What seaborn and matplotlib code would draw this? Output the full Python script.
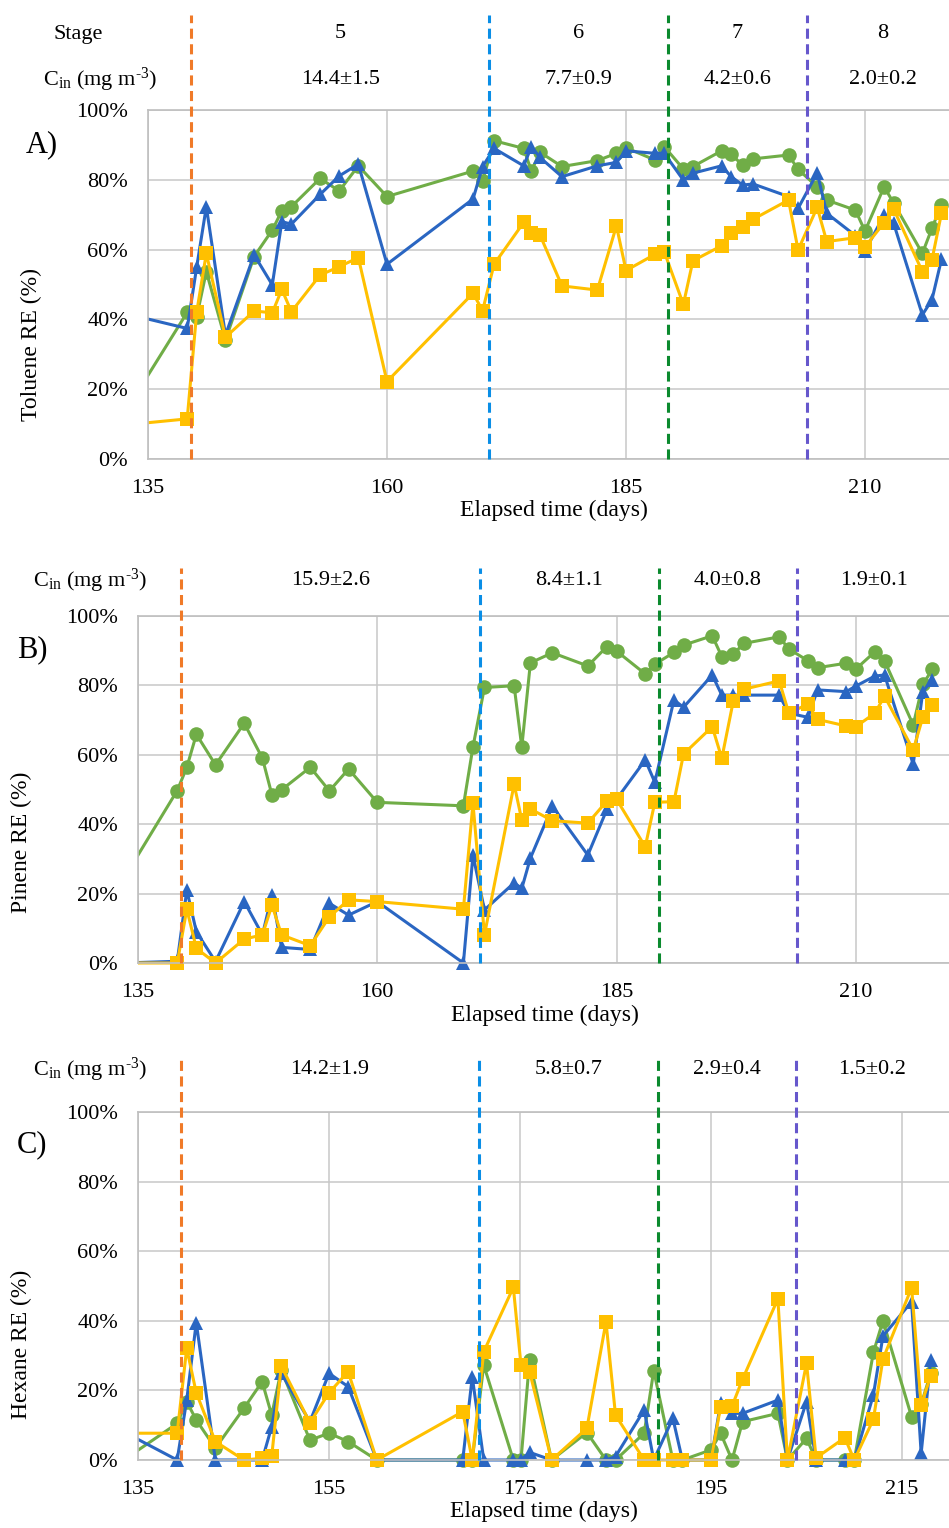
import matplotlib
matplotlib.use('Agg')
import matplotlib.pyplot as plt
from matplotlib.transforms import blended_transform_factory, Bbox, TransformedBbox
from matplotlib.ticker import FuncFormatter
import seaborn as sns
import pandas as pd

# sampling days (first value is an earlier point off the left edge)
DAYS = [133.5, 139.1, 140.1, 141.1, 143.1, 146.1, 148.0, 149.0, 150.0, 153.0, 155.0, 157.0,
        160.0, 169.0, 170.0, 171.2, 174.3, 175.1, 176.0, 178.3, 182.0, 184.0, 185.0, 188.0,
        189.0, 191.0, 192.0, 195.0, 196.0, 197.2, 198.3, 202.0, 203.0, 205.0, 206.0, 209.0,
        210.0, 212.0, 213.0, 216.0, 217.0, 218.0]

# A) toluene RE (%)
tol_green = [17.4, 42.0, 40.8, 53.7, 34.1, 58.0, 65.6, 71.1, 72.3, 80.4, 76.8, 84.0, 75.2, 82.5,
             79.7, 91.2, 89.0, 82.5, 87.9, 83.8, 85.5, 87.6, 89.2, 85.7, 89.5, 83.1, 83.8, 88.3,
             87.3, 84.2, 86.0, 87.1, 83.0, 78.0, 74.2, 71.3, 65.3, 78.0, 73.3, 58.9, 66.1, 72.9]
tol_blue = [41.1, 37.4, 55.1, 72.3, 35.5, 58.5, 49.9, 68.0, 67.3, 75.8, 81.1, 84.5, 55.8, 74.5,
            83.8, 89.0, 84.0, 89.5, 86.4, 80.9, 84.0, 85.0, 88.3, 87.6, 87.6, 79.9, 81.9, 84.0,
            80.9, 78.5, 78.8, 75.2, 71.8, 82.0, 70.4, 64.0, 59.6, 69.9, 67.5, 41.3, 45.6, 57.2]
tol_yellow = [10.0, 11.5, 42.2, 58.9, 34.9, 42.4, 41.9, 48.6, 42.2, 52.7, 55.1, 57.7, 22.2, 47.5,
              42.5, 55.8, 67.8, 64.7, 64.2, 49.6, 48.4, 66.8, 54.0, 58.6, 59.4, 44.3, 56.8, 61.1,
              64.8, 66.4, 68.7, 74.2, 59.9, 72.1, 62.3, 63.4, 60.8, 67.7, 71.6, 53.7, 57.0, 70.4]

# B) pinene RE (%)
pin_green = [24.3, 49.7, 56.4, 65.9, 57.1, 69.1, 59.0, 48.4, 49.9, 56.4, 49.6, 55.9, 46.3, 45.3,
             62.3, 79.4, 79.9, 62.2, 86.5, 89.4, 85.6, 91.2, 89.9, 83.3, 86.1, 89.5, 91.6, 94.3,
             88.3, 89.0, 92.1, 94.0, 90.5, 87.1, 85.1, 86.4, 84.7, 89.7, 87.1, 68.6, 80.3, 84.6]
pin_blue = [0.0, 0.5, 21.0, 9.0, 0.4, 17.7, 8.1, 19.6, 4.5, 3.9, 17.2, 13.8, 17.7, 0.0,
            31.1, 15.3, 23.1, 21.5, 30.2, 45.2, 31.1, 44.3, 47.2, 58.5, 52.1, 75.8, 73.7, 83.0,
            77.2, 77.2, 77.2, 77.2, 72.0, 70.8, 78.7, 78.2, 79.8, 82.7, 83.0, 57.3, 78.2, 81.6]
pin_yellow = [0.0, 0.0, 15.5, 4.2, 0.0, 6.9, 8.1, 16.7, 8.1, 5.0, 13.3, 18.2, 17.7, 15.5,
              46.0, 8.1, 51.5, 41.2, 44.4, 41.0, 40.3, 46.7, 47.2, 33.5, 46.3, 46.5, 60.2, 68.1,
              59.0, 75.5, 78.9, 81.3, 72.0, 74.6, 70.2, 68.3, 68.1, 72.0, 76.9, 61.4, 70.8, 74.4]

# C) hexane RE (%)
hex_green = [0.0, 10.5, 16.8, 11.5, 3.4, 14.9, 22.5, 12.9, 25.9, 5.7, 7.7, 5.3, 0.0, 0.0,
             0.0, 27.3, 0.0, 0.0, 28.7, 0.0, 7.9, 0.0, 0.0, 7.7, 25.7, 0.0, 0.0, 2.9,
             7.7, 0.0, 11.0, 13.4, 0.0, 6.2, 0.0, 0.0, 0.0, 30.9, 40.0, 12.4, 16.0, 24.9]
hex_blue = [8.1, 0.0, 17.2, 39.5, 0.0, 0.0, 0.0, 9.6, 24.9, 11.0, 24.9, 21.1, 0.0, 0.0,
            23.9, 0.0, 0.0, 0.0, 2.2, 0.0, 0.0, 0.0, 1.0, 14.4, 0.0, 12.0, 0.0, 0.0,
            16.3, 13.4, 13.4, 17.2, 0.0, 16.8, 0.0, 0.0, 0.0, 18.7, 35.6, 45.5, 1.9, 28.7]
hex_yellow = [7.7, 7.7, 32.1, 19.3, 5.3, 0.0, 0.5, 1.1, 27.0, 10.7, 19.3, 25.4, 0.0, 13.9,
              0.0, 31.1, 49.6, 27.3, 25.4, 0.0, 9.1, 39.7, 12.9, 0.0, 0.0, 0.0, 0.0, 0.0,
              15.3, 15.5, 23.2, 46.3, 0.0, 27.8, 0.6, 6.4, 0.0, 11.7, 29.0, 49.5, 15.8, 24.1]

# stage changes (days) and stage annotations
STAGE_START = [139.5, 170.7, 189.4, 203.9]
STAGES = ['5', '6', '7', '8']
CIN_TOL = ['14.4±1.5', '7.7±0.9', '4.2±0.6', '2.0±0.2']
CIN_PIN = ['15.9±2.6', '8.4±1.1', '4.0±0.8', '1.9±0.1']
CIN_HEX = ['14.2±1.9', '5.8±0.7', '2.9±0.4', '1.5±0.2']

STAGE_COLORS = ['#F07A28', '#0A8EE6', '#0B8A2E', '#6657CC']
PALETTE = {'g': '#70AD47', 'b': '#2A66C2', 'y': '#FFC000'}
MARKERS = {'g': 'o', 'b': '^', 'y': 's'}

sns.set_theme(style='whitegrid')
plt.rcParams['font.family'] = ['Liberation Serif', 'DejaVu Serif']
plt.rcParams['mathtext.fontset'] = 'custom'
plt.rcParams['mathtext.rm'] = 'Liberation Serif'
plt.rcParams['mathtext.it'] = 'Liberation Serif:italic'
plt.rcParams['text.color'] = 'black'
plt.rcParams['axes.labelcolor'] = 'black'
plt.rcParams['xtick.color'] = 'black'
plt.rcParams['ytick.color'] = 'black'

W, H = 949, 1528
fig = plt.figure(figsize=(W / 100, H / 100), dpi=100)

CIN_LABEL = r'C$_{\rm in}$ (mg m$^{\text{-3}}$)'


def add_axes_px(left, right, top, bottom):
    return fig.add_axes([left / W, 1 - bottom / H, (right - left) / W, (bottom - top) / H])


def panel(ax, green, blue, yellow, ylabel, xticks, cin, dash_top, cin_y, ylab_y, xlab_y):
    n = len(DAYS)
    df = pd.DataFrame({'day': DAYS * 3,
                       'RE': green + blue + yellow,
                       'series': ['g'] * n + ['b'] * n + ['y'] * n})
    sns.lineplot(data=df, x='day', y='RE', hue='series', style='series',
                 hue_order=['g', 'b', 'y'], style_order=['g', 'b', 'y'],
                 palette=PALETTE, markers=MARKERS, dashes=False, sort=False,
                 estimator=None, lw=2.2, markersize=10.5, markeredgewidth=0,
                 legend=False, ax=ax)
    clip = TransformedBbox(Bbox([[0, -0.05], [1, 1.05]]), ax.transAxes)
    for ln in ax.lines:
        ln.set_clip_box(clip)
        ln.set_clip_path(None)

    ax.set_xlim(135, 220)
    ax.set_ylim(0, 100)
    ax.set_xticks(xticks)
    ax.set_yticks(range(0, 101, 20))
    ax.yaxis.set_major_formatter(FuncFormatter(lambda v, p: f'{v:.0f}%'))
    ax.grid(True, color='#C8C8C8', lw=1.1)
    for side in ['left', 'top', 'bottom']:
        ax.spines[side].set_color('#BFBFBF')
        ax.spines[side].set_linewidth(1.2)
    ax.spines['right'].set_visible(False)
    ax.tick_params(axis='both', length=0, labelsize=16)
    ax.tick_params(axis='x', pad=14.5)
    ax.tick_params(axis='y', pad=14.4)

    ax.set_xlabel('Elapsed time (days)', fontsize=17)
    ax.set_ylabel(ylabel, fontsize=17)
    ax.xaxis.set_label_coords(0.5, xlab_y)
    ax.yaxis.set_label_coords(-0.13, ylab_y)

    for d, c in zip(STAGE_START, STAGE_COLORS):
        ax.axvline(d, ymin=0, ymax=dash_top, color=c, lw=2.2,
                   ls=(0, (3.3, 1.8)), clip_on=False, zorder=3)

    tr = blended_transform_factory(ax.transData, ax.transAxes)
    bounds = STAGE_START + [STAGE_START[-1] + 16]
    mids = [(bounds[i] + bounds[i + 1]) / 2 for i in range(4)]
    for m, t in zip(mids, cin):
        ax.text(m, cin_y, t, transform=tr, ha='center', va='center', fontsize=16)
    return tr, mids


axA = add_axes_px(148, 960.6, 110, 459)
axB = add_axes_px(138, 951.5, 616, 963)
axC = add_axes_px(138, 949.8, 1112, 1460)

trA, midsA = panel(axA, tol_green, tol_blue, tol_yellow, 'Toluene RE (%)',
                   [135, 160, 185, 210], CIN_TOL, 1.272, 1.086, 0.327, -0.117)
panel(axB, pin_green, pin_blue, pin_yellow, 'Pinene RE (%)',
      [135, 160, 185, 210], CIN_PIN, 1.138, 1.101, 0.349, -0.121)
panel(axC, hex_green, hex_blue, hex_yellow, 'Hexane RE (%)',
      [135, 155, 175, 195, 215], CIN_HEX, 1.155, 1.121, 0.333, -0.118)

for m, s in zip(midsA, STAGES):
    axA.text(m, 1.218, s, transform=trA, ha='center', va='center', fontsize=16)

fig.text(78 / W, 1 - 34 / H, 'Stage', ha='center', va='center', fontsize=16)
fig.text(100 / W, 1 - 80 / H, CIN_LABEL, ha='center', va='center', fontsize=16)
fig.text(90 / W, 1 - 581 / H, CIN_LABEL, ha='center', va='center', fontsize=16)
fig.text(90 / W, 1 - 1070 / H, CIN_LABEL, ha='center', va='center', fontsize=16)

fig.text(42 / W, 1 - 145 / H, 'A)', ha='center', va='center', fontsize=22)
fig.text(32 / W, 1 - 650 / H, 'B)', ha='center', va='center', fontsize=22)
fig.text(32 / W, 1 - 1145 / H, 'C)', ha='center', va='center', fontsize=22)

fig.savefig('out.png', dpi=100)
